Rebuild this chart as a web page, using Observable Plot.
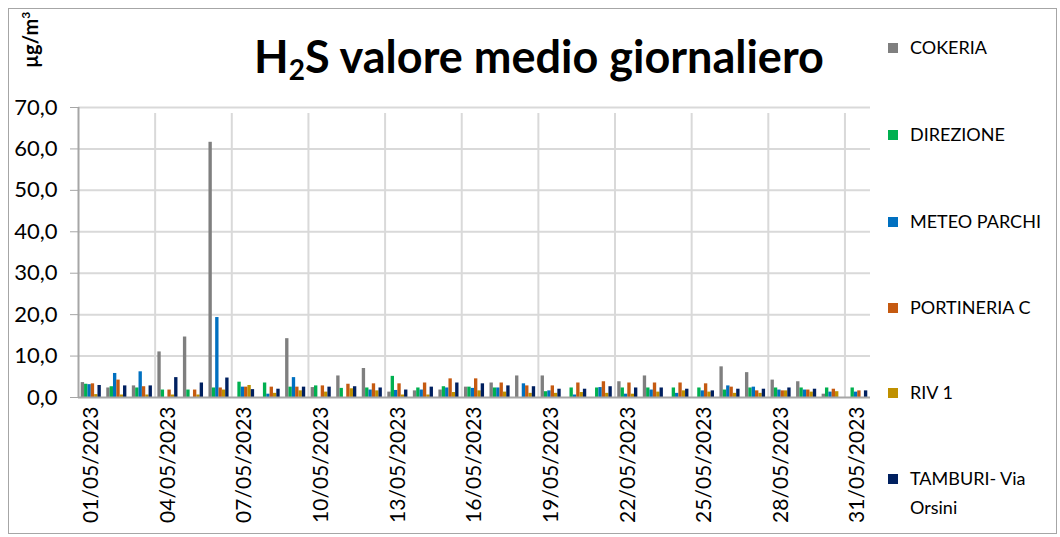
<!DOCTYPE html>
<html><head><meta charset="utf-8">
<script src="https://cdn.jsdelivr.net/npm/d3@7"></script>
<script src="https://cdn.jsdelivr.net/npm/@observablehq/plot@0.6"></script>
<style>
body{margin:0;background:#fff;}
#wrap{position:relative;width:1060px;height:537px;font-family:Lato,"Open Sans",sans-serif;color:#000;overflow:hidden;}
#border{position:absolute;left:8px;top:8px;width:1049px;height:526px;border:1px solid #a6a6a6;box-sizing:border-box;}
#title{position:absolute;left:0;width:1078px;top:29px;text-align:center;font-weight:bold;font-size:45px;line-height:54px;}
#title sub{font-size:28px;line-height:0;vertical-align:-7px;}
#unit{position:absolute;left:30px;top:40px;transform:translate(-50%,-50%) rotate(-90deg);font-weight:bold;font-size:20px;white-space:nowrap;}
#unit sup{font-size:12px;vertical-align:8px;line-height:0;}
.leg{position:absolute;left:888px;font-size:18px;line-height:29px;white-space:nowrap;}
.leg span.sw{position:absolute;left:0;top:10px;width:10px;height:10px;}
.leg span.tx{position:absolute;left:22px;top:0;}
svg{position:absolute;left:0;top:0;}
</style></head><body><div id="wrap"></div>
<script>
const days = ["01/05/2023","02/05/2023","03/05/2023","04/05/2023","05/05/2023","06/05/2023","07/05/2023","08/05/2023","09/05/2023","10/05/2023","11/05/2023","12/05/2023","13/05/2023","14/05/2023","15/05/2023","16/05/2023","17/05/2023","18/05/2023","19/05/2023","20/05/2023","21/05/2023","22/05/2023","23/05/2023","24/05/2023","25/05/2023","26/05/2023","27/05/2023","28/05/2023","29/05/2023","30/05/2023","31/05/2023"];
const cokeria     = [3.6,2.3,2.8,11.0,14.6,61.6,0,0,14.2,2.4,5.2,7.0,1.3,1.6,1.8,2.5,3.5,5.2,5.2,0,0,3.8,5.2,0,0,7.4,6.0,4.2,3.8,0.8,0];
const direzione   = [3.2,2.6,2.3,1.8,1.8,2.3,3.7,3.5,2.5,2.8,2.2,2.3,5.1,2.3,2.6,2.5,2.3,0,1.4,2.3,2.3,2.3,2.3,2.3,2.3,1.8,2.3,2.3,2.3,2.3,2.3];
const meteoParchi = [3.1,5.8,6.2,0,0,19.3,2.5,0.8,4.8,0,0,1.8,1.7,1.8,2.3,2.2,2.3,3.3,1.6,0.6,2.4,0.8,1.8,1.0,1.6,2.8,2.5,1.8,1.8,1.3,1.3];
const portineria  = [3.3,4.2,2.6,1.8,1.8,2.3,2.5,2.5,2.5,2.8,3.2,3.3,3.3,3.5,4.5,4.5,3.5,2.8,2.8,3.5,3.8,3.5,3.5,3.5,3.3,2.5,1.6,1.6,1.8,2.0,1.6];
const riv1        = [0.7,0.6,0.6,0.6,0.6,1.8,2.9,1.0,1.6,1.3,2.1,1.6,0.6,0.6,1.2,1.6,1.3,1.0,1.0,1.2,1.0,0.8,1.3,1.6,1.3,1.0,1.0,1.6,1.3,1.4,0];
const tamburi     = [2.9,2.8,2.8,4.8,3.5,4.7,1.9,2.0,2.5,2.5,2.6,2.3,1.8,2.5,3.5,3.3,2.8,2.6,2.0,2.0,2.6,2.3,2.3,2.0,1.6,2.0,2.0,2.3,2.0,0,1.6];
const seriesNames = ["COKERIA","DIREZIONE","METEO PARCHI","PORTINERIA C","RIV 1","TAMBURI- Via Orsini"];
const seriesKeys  = ["cokeria","direzione","meteoParchi","portineria","riv1","tamburi"];
const seriesColors = ["#7f7f7f","#00b050","#0070c0","#c55a11","#bf9000","#002060"];
const yTicks = [0,10,20,30,40,50,60,70];

const rows = days.map((d,i)=>({day:d, cokeria:cokeria[i], direzione:direzione[i], meteoParchi:meteoParchi[i], portineria:portineria[i], riv1:riv1[i], tamburi:tamburi[i]}));
const tickDays = days.filter((d,i)=>i%3===0);
const gridDays = days.filter((d,i)=>i>0 && i%3===0);

const W=1060,H=537,mL=78,mR=190,mT=107,mB=140;
const band=(W-mL-mR)/days.length;
const bw=3.35, off=(band-6*bw)/2;

const bars = seriesKeys.map((k,j)=>Plot.barY(rows,{x:"day",y:k,fill:seriesColors[j],insetLeft:off+j*bw,insetRight:band-off-(j+1)*bw}));

const chart = Plot.plot({
  width:W,height:H,marginLeft:mL,marginRight:mR,marginTop:mT,marginBottom:mB,
  style:{fontFamily:"Lato, 'Open Sans', sans-serif",background:"transparent",color:"#000"},
  x:{type:"band",domain:days,padding:0,round:false,label:null},
  y:{domain:[0,70],label:null},
  marks:[
    Plot.ruleY(yTicks.filter(d=>d>0),{stroke:"#d9d9d9",strokeWidth:2}),
    Plot.ruleX(gridDays,{x:d=>d,dx:-band/2,y1:0,y2:70,insetBottom:-6,stroke:"#d9d9d9",strokeWidth:2}),
    Plot.ruleX([days[0]],{x:d=>d,dx:-band/2,y1:0,y2:70,stroke:"#a6a6a6",strokeWidth:2}),
    ...bars,
    Plot.ruleY([0],{stroke:"#a6a6a6",strokeWidth:2}),
    Plot.axisY({ticks:yTicks,tickFormat:d=>d.toFixed(1).replace(".",","),tickSize:8,tickPadding:13,fontSize:22,stroke:"#a6a6a6",fill:"#000",label:null}),
    Plot.axisX({ticks:tickDays,tickSize:0,tickRotate:-90,tickPadding:9,fontSize:21,fill:"#000",label:null})
  ]
});

const wrap=document.getElementById("wrap");
wrap.appendChild(chart);
wrap.insertAdjacentHTML("beforeend",
 '<div id="border"></div><div id="title">H<sub>2</sub>S valore medio giornaliero</div><div id="unit">µg/m<sup>3</sup></div>');
const legY=[33,120,207,293,378,464];
seriesNames.forEach((n,j)=>{
  const div=document.createElement("div");
  div.className="leg";div.style.top=legY[j]+"px";
  const sw=document.createElement("span");sw.className="sw";sw.style.background=seriesColors[j];
  const tx=document.createElement("span");tx.className="tx";
  if(n==="TAMBURI- Via Orsini"){tx.innerHTML="TAMBURI- Via<br>Orsini";}else{tx.textContent=n;}
  div.appendChild(sw);div.appendChild(tx);wrap.appendChild(div);
});
</script></body></html>
